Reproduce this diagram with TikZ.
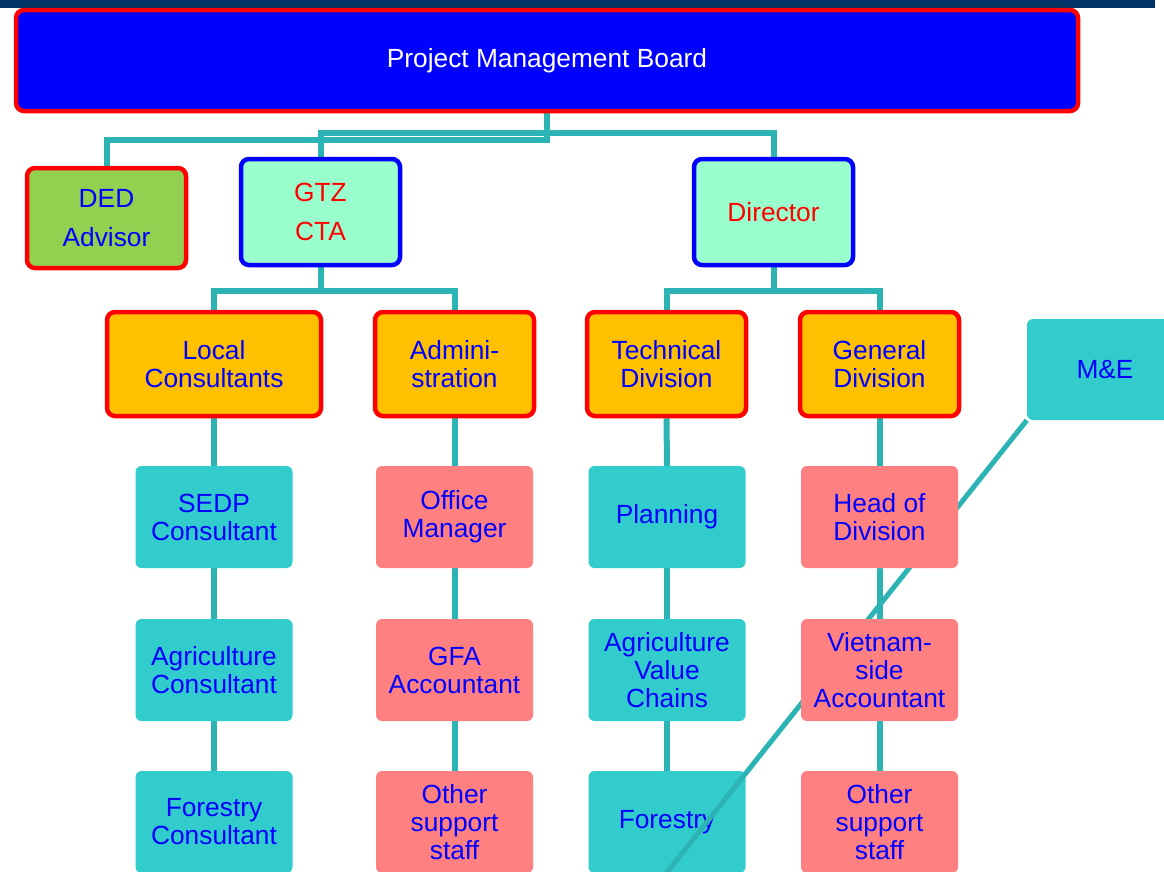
\documentclass[tikz,border=0pt]{standalone}
\usepackage{fontspec}
\setmainfont{Liberation Sans}
\definecolor{navy}{RGB}{0,51,102}
\definecolor{pblue}{RGB}{0,0,255}
\definecolor{pred}{RGB}{255,0,0}
\definecolor{dedgreen}{RGB}{146,208,80}
\definecolor{mint}{RGB}{153,255,204}
\definecolor{orng}{RGB}{255,192,0}
\definecolor{tealfill}{RGB}{51,204,204}
\definecolor{pinkfill}{RGB}{255,128,128}
\definecolor{lineteal}{RGB}{44,180,180}
\pgfdeclarelayer{bg}
\pgfdeclarelayer{fg}
\pgfsetlayers{bg,main,fg}
\begin{document}
\begin{tikzpicture}[x=1pt,y=-1pt,
  every node/.style={inner sep=0pt, align=center, font=\fontsize{26.3}{28}\selectfont},
  topbox/.style={draw=pred, line width=4.5pt, rounded corners=8pt, fill=pblue, text=white},
  greenbox/.style={draw=pred, line width=4.5pt, rounded corners=8pt, fill=dedgreen, text=pblue, minimum width=159pt, minimum height=100pt},
  mintbox/.style={draw=pblue, line width=4.5pt, rounded corners=8pt, fill=mint, text=pred, minimum width=159pt, minimum height=106pt},
  orangebox/.style={draw=pred, line width=4.5pt, rounded corners=8pt, fill=orng, text=pblue, minimum width=159pt, minimum height=104pt},
  tealbox/.style={fill=tealfill, rounded corners=6pt, text=pblue, minimum width=157pt, minimum height=102pt},
  pinkbox/.style={fill=pinkfill, rounded corners=6pt, text=pblue, minimum width=157pt, minimum height=102pt},
  conn/.style={draw=lineteal, line width=6pt},
  diag/.style={draw=lineteal, line width=5pt}]
\useasboundingbox (0,0) rectangle (1164,871);
\clip (0,0) rectangle (1164,871);
\fill[navy] (0,0) rectangle (1155,8);

\node[topbox, minimum width=1062pt, minimum height=101pt] (board) at (547,60.5) {Project Management Board};
\node[greenbox] (ded) at (106.5,218) {DED\\[11pt]Advisor};
\node[mintbox] (gtz) at (320.5,212) {GTZ\\[11pt]CTA};
\node[mintbox] (dir) at (773.5,212) {Director};

\node[orangebox, minimum width=214pt] (local) at (214,364) {Local\\Consultants};
\node[orangebox] (admin) at (454.5,364) {Admini-\\stration};
\node[orangebox] (tech) at (666.5,364) {Technical\\Division};
\node[orangebox] (gen) at (879.5,364) {General\\Division};
\node[tealbox, minimum width=164pt, minimum height=101pt] (me) at (1109,369.5) {\hspace*{-8pt}M\&E};

\node[tealbox] (sedp) at (214,517) {SEDP\\Consultant};
\node[tealbox] (agric) at (214,670) {Agriculture\\Consultant};
\node[tealbox] (forc) at (214,822) {Forestry\\Consultant};

\node[tealbox] (plan) at (667,517) {Planning};
\node[tealbox] (avc) at (667,670) {Agriculture\\Value\\Chains};
\node[tealbox] (forest) at (667,822) {Forestry};

\coordinate (diagend) at (660,881);
\draw[diag] (me.south west) -- (diagend);

\begin{pgfonlayer}{fg}
\node[pinkbox] (office) at (454.5,517) {Office\\Manager};
\node[pinkbox] (gfa) at (454.5,670) {GFA\\Accountant};
\node[pinkbox] (other1) at (454.5,822) {Other\\support\\staff};
\node[pinkbox] (head) at (879.5,517) {Head of\\Division};
\node[pinkbox] (viet) at (879.5,670) {Vietnam-\\side\\Accountant};
\node[pinkbox] (other2) at (879.5,822) {Other\\support\\staff};
\end{pgfonlayer}

\begin{pgfonlayer}{bg}
\draw[conn] (board.south) -- ++(0,27) -| (ded.north);
\draw[conn] (gtz.north) -- ++(0,-24) -| (dir.north);
\draw[conn] (gtz.south) -- ++(0,24) -| (local.north);
\draw[conn] (gtz.south) -- ++(0,24) -| (admin.north);
\draw[conn] (dir.south) -- ++(0,24) -| (tech.north);
\draw[conn] (dir.south) -- ++(0,24) -| (gen.north);
\draw[conn] (local.south) -- (sedp.north);
\draw[conn] (sedp.south) -- (agric.north);
\draw[conn] (agric.south) -- (forc.north);
\draw[conn] (admin.south) -- (office.north);
\draw[conn] (office.south) -- (gfa.north);
\draw[conn] (gfa.south) -- (other1.north);
\draw[conn] (tech.south) -- (plan.north);
\draw[conn] (plan.south) -- (avc.north);
\draw[conn] (avc.south) -- (forest.north);
\draw[conn] (gen.south) -- (head.north);
\draw[conn] (head.south) -- (viet.north);
\draw[conn] (viet.south) -- (other2.north);
\end{pgfonlayer}
\end{tikzpicture}
\end{document}
